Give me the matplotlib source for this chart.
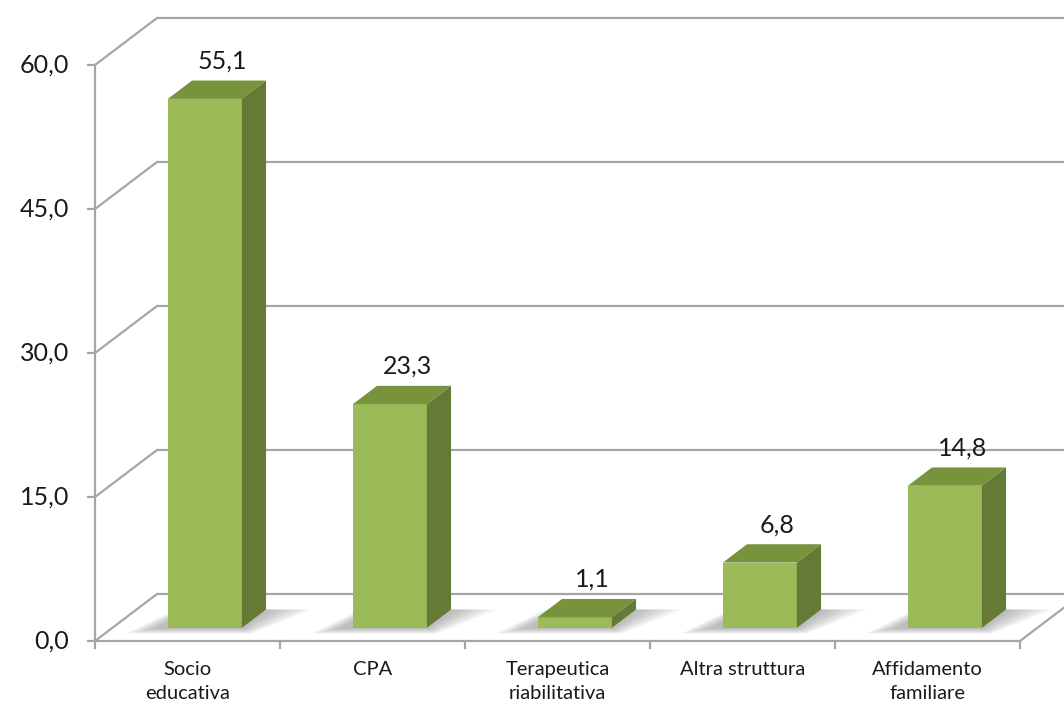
import matplotlib
matplotlib.use("Agg")
import matplotlib.pyplot as plt
from matplotlib.patches import Polygon

categories = ["Socio\neducativa", "CPA", "Terapeutica\nriabilitativa", "Altra struttura", "Affidamento\nfamiliare"]
values = [55.1, 23.3, 1.1, 6.8, 14.8]
yticks = [0, 15, 30, 45, 60]
ytick_labels = ["0,0", "15,0", "30,0", "45,0", "60,0"]
value_labels = ["55,1", "23,3", "1,1", "6,8", "14,8"]

FONT = ["Lato", "DejaVu Sans"]
plt.rcParams['font.family'] = FONT

W, H = 1064, 709
fig = plt.figure(figsize=(W / 100, H / 100), dpi=100)
ax = fig.add_axes([0, 0, 1, 1])
ax.set_axis_off()

# geometry (category units horizontally, value units vertically)
px_u = 185.0
px_v = 9.6
x0_px, y0_px = 95.0, 641.0
ax.set_xlim(-x0_px / px_u, (W - x0_px) / px_u)
ax.set_ylim(-(H - y0_px) / px_v, y0_px / px_v)

DX = 62.0 / px_u
DY = 47.0 / px_v
n = len(categories)
ymax = yticks[-1]

def P(u, v, d):
    return (u + d * DX, v + d * DY)

grid_c = "#A6A6A6"
lw = 1.6
txt_c = "#1a1a1a"

# back wall gridlines and left wall diagonals
for t, tl in zip(yticks, ytick_labels):
    ax.plot([P(0, t, 1)[0], 20], [P(0, t, 1)[1]] * 2, color=grid_c, lw=lw, zorder=1,
            solid_capstyle="butt")
    ax.plot([0, DX], [t, t + DY], color=grid_c, lw=lw, zorder=1)
    ax.plot([-7 / px_u, 0], [t, t], color=grid_c, lw=lw, zorder=1)
    ax.text(-26 / px_u, t, tl, ha="right", va="center", fontsize=18, color=txt_c)

# vertical axis
ax.plot([0, 0], [0, ymax], color=grid_c, lw=lw, zorder=1)
# floor front edge and right side
ax.plot([0, n], [0, 0], color=grid_c, lw=lw, zorder=1)
ax.plot([n, n + DX * 2], [0, DY * 2], color=grid_c, lw=lw, zorder=1)
# x tick marks
for i in range(n + 1):
    ax.plot([i, i], [0, -7 / px_v], color=grid_c, lw=lw, zorder=1)

# bars
bw = 74.0 / px_u
d_front, d_back = 0.28, 0.67
c_front = "#9BBB59"
c_top = "#77933C"
c_side = "#647A35"

for i, (val, lab) in enumerate(zip(values, value_labels)):
    cx = i + 0.5
    l, r = cx - bw / 2, cx + bw / 2
    # soft shadow on floor
    for k in range(8):
        e = (8 - k) * 0.022
        ev = (8 - k) * 0.25
        shadow = Polygon([P(l - e - 0.05, -ev * 0.3, d_front), P(r + e * 0.3, -ev * 0.3, d_front),
                          P(r + e * 1.4, 0, d_back), P(l - e * 0.5, 0, d_back)],
                         closed=True, facecolor="#707070", edgecolor="none", alpha=0.07, zorder=2)
        ax.add_patch(shadow)
    front = Polygon([P(l, 0, d_front), P(r, 0, d_front), P(r, val, d_front), P(l, val, d_front)],
                    closed=True, facecolor=c_front, edgecolor="none", zorder=3)
    top = Polygon([P(l, val, d_front), P(r, val, d_front), P(r, val, d_back), P(l, val, d_back)],
                  closed=True, facecolor=c_top, edgecolor="none", zorder=3)
    side = Polygon([P(r, 0, d_front), P(r, 0, d_back), P(r, val, d_back), P(r, val, d_front)],
                   closed=True, facecolor=c_side, edgecolor="none", zorder=3)
    for p in (front, top, side):
        ax.add_patch(p)
    lx, ly = P(cx + 0.03, val, (d_front + d_back) / 2)
    ax.text(lx, ly + 1.8, lab, ha="center", va="bottom", fontsize=18, color=txt_c, zorder=4)

# category labels
for i, c in enumerate(categories):
    ax.text(i + 0.5, -20 / px_v, c, ha="center", va="top", fontsize=14.5,
            color=txt_c, linespacing=1.5)

fig.savefig("out.png", dpi=100)
